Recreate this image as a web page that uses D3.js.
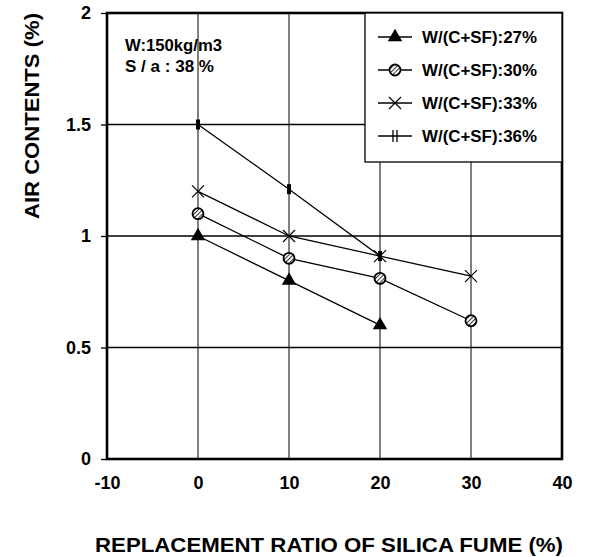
<!DOCTYPE html>
<html><head><meta charset="utf-8">
<script src="https://cdn.jsdelivr.net/npm/d3@7"></script>
<style>body{margin:0;background:#fff}svg{display:block}text{font-family:"Liberation Sans",Arial,sans-serif;font-weight:bold;fill:#000}</style>
</head><body><svg id="c" width="589" height="557"></svg>
<script>
const xTicks = [-10, 0, 10, 20, 30, 40];
const yTicks = [0, 0.5, 1, 1.5, 2];
const xValues = [0, 10, 20, 30];
const s27 = [1.0, 0.8, 0.6];
const s30 = [1.1, 0.9, 0.81, 0.62];
const s33 = [1.2, 1.0, 0.91, 0.82];
const s36 = [1.5, 1.21, 0.91];
const seriesNames = ["W/(C+SF):27%", "W/(C+SF):30%", "W/(C+SF):33%", "W/(C+SF):36%"];
const markers = ["triangle", "hatch", "cross", "bar"];
const annotations = ["W:150kg/m3", "S / a : 38 %"];

const svg = d3.select("#c");
const L = 107, R = 562, T = 13, B = 459;
const x = d3.scaleLinear().domain([-10, 40]).range([L, R]);
const y = d3.scaleLinear().domain([0, 2]).range([B, T]);
const fmt = d => String(d);

const defs = svg.append("defs");
const pat = defs.append("pattern").attr("id", "hp").attr("patternUnits", "userSpaceOnUse")
  .attr("width", 3).attr("height", 3).attr("patternTransform", "rotate(45)");
pat.append("rect").attr("width", 3).attr("height", 3).attr("fill", "#fff");
pat.append("line").attr("x1", 0).attr("y1", 0).attr("x2", 0).attr("y2", 3).attr("stroke", "#000").attr("stroke-width", 1.6);

// grid
const g = svg.append("g");
g.selectAll(".gx").data(xTicks.slice(1, -1)).join("line")
  .attr("x1", d => x(d)).attr("x2", d => x(d)).attr("y1", T).attr("y2", B)
  .attr("stroke", "#000").attr("stroke-width", 1);
g.selectAll(".gy").data(yTicks.slice(1, -1)).join("line")
  .attr("x1", L).attr("x2", R).attr("y1", d => y(d)).attr("y2", d => y(d))
  .attr("stroke", "#000").attr("stroke-width", 1.3);

// axes
const yAxis = d3.axisLeft(y).tickValues(yTicks).tickFormat(fmt).tickSize(6).tickPadding(10);
const ya = svg.append("g").attr("transform", `translate(${L},0)`).call(yAxis);
ya.select(".domain").remove();
ya.selectAll("line").attr("stroke-width", 1.3);
ya.selectAll("text").style("font-size", "18px").style("font-family", "Liberation Sans, Arial, sans-serif").style("font-weight", "bold");
const xAxis = d3.axisBottom(x).tickValues(xTicks).tickFormat(fmt).tickSize(0).tickPadding(17);
const xa = svg.append("g").attr("transform", `translate(0,${B})`).call(xAxis);
xa.select(".domain").remove();
xa.selectAll("text").style("font-size", "18px").style("font-family", "Liberation Sans, Arial, sans-serif").style("font-weight", "bold");

// frame
svg.append("rect").attr("x", L).attr("y", T).attr("width", R - L).attr("height", B - T)
  .attr("fill", "none").attr("stroke", "#000").attr("stroke-width", 2.6);

// legend box
const lg = svg.append("g");
lg.append("rect").attr("x", 365).attr("y", T).attr("width", R - 365).attr("height", 149)
  .attr("fill", "#fff").attr("stroke", "#000").attr("stroke-width", 1.3);

function drawMarker(sel, type, cx, cy) {
  if (type === "triangle") {
    sel.append("path").attr("d", d3.symbol(d3.symbolTriangle, 90)()).attr("transform", `translate(${cx},${cy})`).attr("fill", "#000");
  } else if (type === "hatch") {
    sel.append("circle").attr("cx", cx).attr("cy", cy).attr("r", 5.5).attr("fill", "url(#hp)").attr("stroke", "#000").attr("stroke-width", 1.8);
  } else if (type === "cross") {
    sel.append("path").attr("d", `M${cx-6},${cy-6}L${cx+6},${cy+6}M${cx-6},${cy+6}L${cx+6},${cy-6}`).attr("stroke", "#000").attr("stroke-width", 1.2);
  } else {
    sel.append("rect").attr("x", cx - 2).attr("y", cy - 5).attr("width", 4).attr("height", 10).attr("fill", "#000");
  }
}
function drawLegendMarker(sel, type, cx, cy) {
  if (type === "bar") {
    sel.append("path").attr("d", `M${cx-2},${cy-6}V${cy+6}M${cx+2},${cy-6}V${cy+6}`).attr("stroke", "#000").attr("stroke-width", 1.3);
  } else drawMarker(sel, type, cx, cy);
}

const allSeries = [s27, s30, s33, s36];
const line = d3.line().x((d, i) => x(xValues[i])).y(d => y(d));
allSeries.forEach((s, k) => {
  svg.append("path").attr("d", line(s)).attr("fill", "none").attr("stroke", "#000").attr("stroke-width", 1.3);
});
allSeries.forEach((s, k) => {
  const mg = svg.append("g");
  s.forEach((v, i) => drawMarker(mg, markers[k], x(xValues[i]), y(v)));
});

seriesNames.forEach((n, k) => {
  const cy = 37 + k * 33;
  lg.append("line").attr("x1", 378).attr("x2", 412).attr("y1", cy).attr("y2", cy).attr("stroke", "#000").attr("stroke-width", 1.3);
  drawLegendMarker(lg, markers[k], 395, cy);
  lg.append("text").attr("x", 422).attr("y", cy + 6).style("font-size", "16px")
    .attr("textLength", 115).attr("lengthAdjust", "spacingAndGlyphs").text(n);
});

const annLen = [97, 89];
annotations.forEach((a, i) => {
  svg.append("text").attr("x", 125).attr("y", 51 + i * 21).style("font-size", "16px")
    .attr("textLength", annLen[i]).attr("lengthAdjust", "spacingAndGlyphs").text(a);
});

svg.append("text").attr("transform", "translate(39,116) rotate(-90)").attr("text-anchor", "middle")
  .style("font-size", "20px").attr("textLength", 206).attr("lengthAdjust", "spacingAndGlyphs").text("AIR CONTENTS (%)");
svg.append("text").attr("x", 329).attr("y", 552).attr("text-anchor", "middle")
  .style("font-size", "20px").attr("textLength", 468).attr("lengthAdjust", "spacingAndGlyphs").text("REPLACEMENT RATIO OF SILICA FUME (%)");
</script></body></html>
